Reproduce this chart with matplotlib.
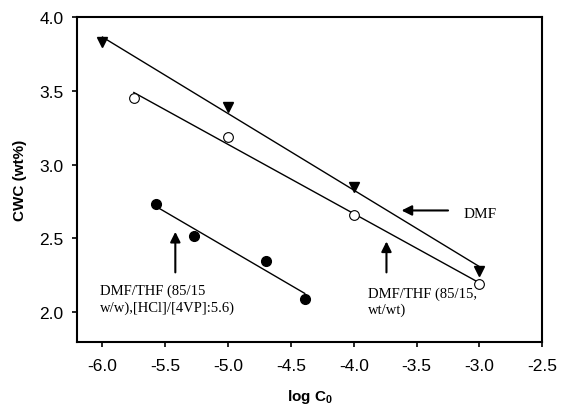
import numpy as np
import matplotlib
matplotlib.use("Agg")
import matplotlib.pyplot as plt

plt.rcParams['font.family'] = ['Liberation Sans', 'DejaVu Sans']
plt.rcParams['mathtext.fontset'] = 'custom'
plt.rcParams['mathtext.rm'] = 'Liberation Sans'
plt.rcParams['mathtext.bf'] = 'Liberation Sans:bold'

# Data
dmf_x = [-6.0, -5.0, -4.0, -3.0]
dmf_y = [3.83, 3.39, 2.85, 2.28]
mix_x = [-5.75, -5.0, -4.0, -3.0]
mix_y = [3.455, 3.19, 2.66, 2.19]
hcl_x = [-5.573, -5.274, -4.699, -4.39]
hcl_y = [2.736, 2.518, 2.349, 2.09]

xticks = [-6.0, -5.5, -5.0, -4.5, -4.0, -3.5, -3.0, -2.5]
yticks = [2.0, 2.5, 3.0, 3.5, 4.0]

fig = plt.figure(figsize=(5.61, 4.06), dpi=100)
ax = fig.add_axes([77.3/561, 1-342.7/406, (542.3-77.3)/561, (342.7-18.3)/406])


def fitline(x, y):
    x = np.asarray(x); y = np.asarray(y)
    p = np.polyfit(x, y, 1)
    xs = np.array([x.min(), x.max()])
    return xs, np.polyval(p, xs)

for xs, ys in [(dmf_x, dmf_y), (mix_x, mix_y), (hcl_x, hcl_y)]:
    lx, ly = fitline(xs, ys)
    ax.plot(lx, ly, color='black', lw=1.0, zorder=2)

ax.plot(dmf_x, dmf_y, 'v', color='black', ms=6.5, zorder=3)
ax.plot(mix_x, mix_y, 'o', mfc='white', mec='black', mew=0.8, ms=7, zorder=3)
ax.plot(hcl_x, hcl_y, 'o', color='black', ms=7, zorder=3)

ax.set_xlim(-6.2, -2.5)
ax.set_ylim(1.8, 4.0)
ax.set_xticks(xticks)
ax.set_yticks(yticks)
ax.set_xticklabels([f'{t:.1f}' for t in xticks])
ax.set_yticklabels([f'{t:.1f}' for t in yticks])
ax.tick_params(direction='out', length=3.6, width=1.2, labelsize=12.5)
ax.tick_params(axis='y', pad=6.5)
ax.tick_params(axis='x', pad=8)
for s in ax.spines.values():
    s.set_linewidth(1.5)

ax.set_xlabel(r'log C$_\mathbf{0}$', fontsize=11, fontweight='bold', labelpad=10)
ax.set_ylabel('CWC (wt%)', fontsize=11, fontweight='bold', labelpad=8.5)

ap = dict(arrowstyle='-|>', color='black', lw=1.5, mutation_scale=15, shrinkA=0, shrinkB=0)
serif = ['Liberation Serif', 'DejaVu Serif']

ax.annotate('', xy=(-3.62, 2.69), xytext=(-3.25, 2.69), arrowprops=ap)
ax.text(-3.125, 2.67, 'DMF', family=serif, fontsize=11, va='center', ha='left')

ax.annotate('', xy=(-3.74, 2.48), xytext=(-3.74, 2.27), arrowprops=ap)
ax.text(-3.89, 2.175, 'DMF/THF (85/15,\nwt/wt)', family=serif, fontsize=10.5,
        va='top', ha='left', linespacing=1.3)

ax.annotate('', xy=(-5.42, 2.545), xytext=(-5.42, 2.27), arrowprops=ap)
ax.text(-6.02, 2.195, 'DMF/THF (85/15\nw/w),[HCl]/[4VP]:5.6)', family=serif, fontsize=10.5,
        va='top', ha='left', linespacing=1.3)

fig.savefig('out.png', dpi=100)
